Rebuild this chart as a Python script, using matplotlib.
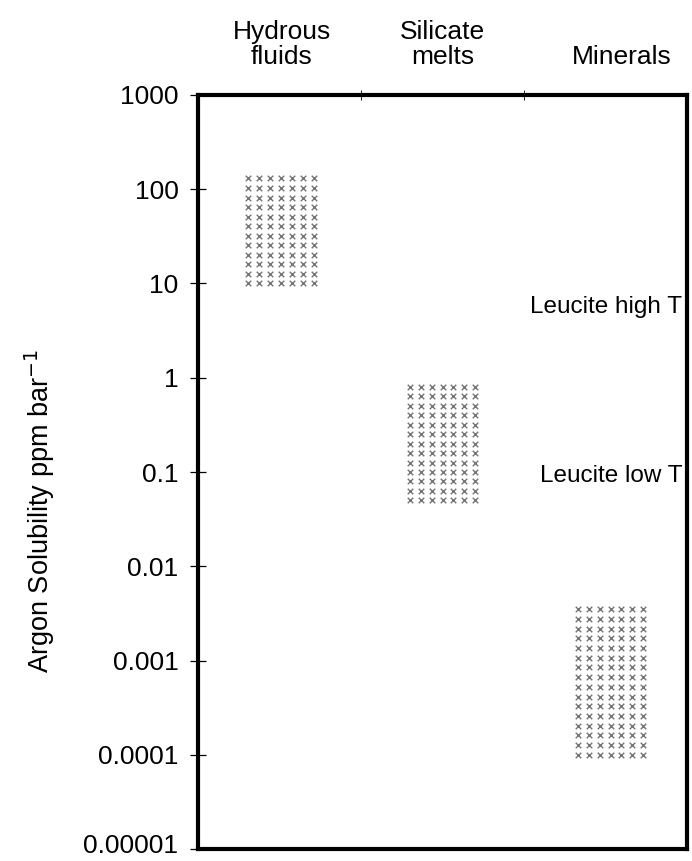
import numpy as np
import matplotlib.pyplot as plt
from matplotlib.transforms import blended_transform_factory, ScaledTranslation

plt.rcParams['font.family'] = ['Liberation Sans', 'DejaVu Sans']

# column groups and their solubility ranges (ppm/bar)
groups = ['Hydrous\nfluids', 'Silicate\nmelts', 'Minerals']
head_x = [0.515, 1.50, 2.60]
centers = [0.51, 1.50, 2.53]
low = [10, 0.05, 0.0001]
high = [130, 0.8, 0.0035]
n_rows = [12, 13, 16]
n_cols = [7, 7, 7]

ticks = [1e-5, 1e-4, 1e-3, 1e-2, 1e-1, 1, 10, 100, 1000]
tick_labels = ['0.00001', '0.0001', '0.001', '0.01', '0.1', '1', '10', '100', '1000']

notes = ['Leucite high T', 'Leucite low T']
note_y = [5.6, 0.09]

fig = plt.figure(figsize=(6.92, 8.61), dpi=100)
ax = fig.add_axes([0.286, 0.0139, 0.707, 0.8758])

# stippled boxes: grid of small x marks
width = 0.4
for c, lo, hi, nr, nc in zip(centers, low, high, n_rows, n_cols):
    xs = np.linspace(c - width / 2, c + width / 2, nc)
    ys = np.logspace(np.log10(lo), np.log10(hi), nr)
    gx, gy = np.meshgrid(xs, ys)
    ax.scatter(gx.ravel(), gy.ravel(), marker='x', s=16, linewidths=1.0,
               color='#757575')

ax.set_yscale('log')
ax.set_ylim(1e-5, 1000)
ax.set_xlim(0, 3)
ax.set_yticks(ticks)
ax.set_yticklabels(tick_labels, fontsize=19)
ax.minorticks_off()
ax.tick_params(axis='y', direction='inout', length=12, width=0.9, pad=8)

# nudge the lowest label up a few pixels so it stays on the canvas
lab0 = ax.get_yticklabels()[0]
lab0.set_transform(lab0.get_transform() + ScaledTranslation(0, 4 / 72, fig.dpi_scale_trans))

# small separator ticks on the top edge
ax.set_xticks([1, 2])
ax.tick_params(axis='x', direction='inout', length=7, width=0.6,
               top=True, bottom=False, labelbottom=False)

for side in ['left', 'bottom', 'top', 'right']:
    ax.spines[side].set_linewidth(3)

# column headings above the frame
trans = blended_transform_factory(ax.transData, ax.transAxes)
for g, hx in zip(groups, head_x):
    ax.text(hx, 1.035, g, transform=trans, ha='center', va='bottom',
            fontsize=19, linespacing=1.05)

for t, ty in zip(notes, note_y):
    ax.text(0.99, ty, t, transform=blended_transform_factory(ax.transAxes, ax.transData),
            ha='right', va='center', fontsize=17.5)

fig.text(40 / 692, 1 - 511 / 861, 'Argon Solubility ppm bar$^{-1}$', rotation=90,
         ha='center', va='center', fontsize=19.5)

fig.savefig('out.png', dpi=100)
